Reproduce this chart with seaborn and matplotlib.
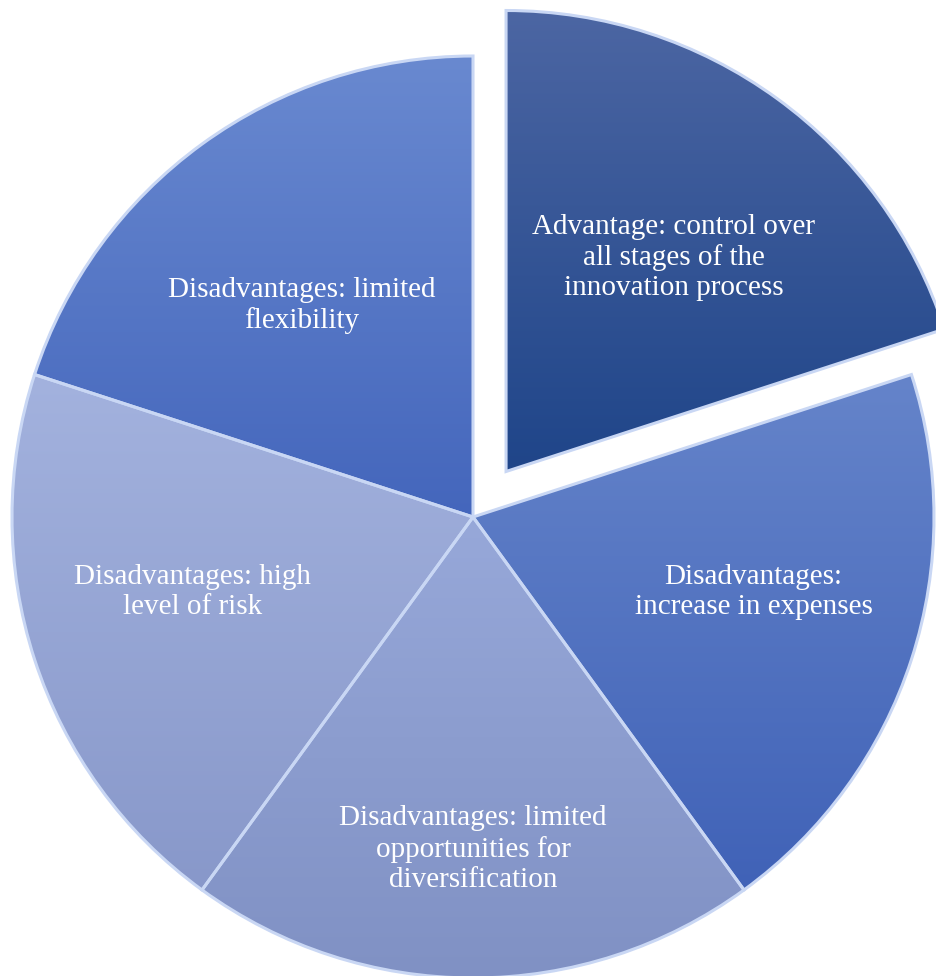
import matplotlib
matplotlib.use("Agg")
import matplotlib.pyplot as plt
import numpy as np
import seaborn as sns
from matplotlib.colors import LinearSegmentedColormap

# ---- data ----
labels = [
    "Advantage: control over\nall stages of the\ninnovation process",
    "Disadvantages:\nincrease in expenses",
    "Disadvantages: limited\nopportunities for\ndiversification",
    "Disadvantages: high\nlevel of risk",
    "Disadvantages: limited\nflexibility",
]
values = [1, 1, 1, 1, 1]
explode = [0.122, 0, 0, 0, 0]
top_colors = ["#4C66A3", "#6584CA", "#97A8D9", "#A3B2DE", "#6989D0"]
bottom_colors = ["#1F4589", "#4062B7", "#8091C4", "#8898CA", "#4466BC"]
label_dist = [0.59, 0.63, 0.72, 0.63, 0.59]
label_dang = [-2, 3, 0, -3, 3]

sns.set_theme(style="white")
plt.rcParams["font.family"] = ["Liberation Serif", "DejaVu Serif"]

W, H = 936, 976
R = 461.0
cx, cy = 473.0, 517.0

fig = plt.figure(figsize=(W / 100, H / 100), dpi=100)
ax = fig.add_axes([0, 0, 1, 1])
wedges, _ = ax.pie(values, explode=explode, startangle=90, counterclock=False,
                   radius=1.0, colors=top_colors,
                   wedgeprops=dict(edgecolor="#C9D7F4", linewidth=2.2))

ax.set_xlim(-cx / R, (W - cx) / R)
ax.set_ylim(-(H - cy) / R, cy / R)
ax.set_aspect("equal", adjustable="box")
ax.axis("off")

for i, w in enumerate(wedges):
    cmap = LinearSegmentedColormap.from_list("g%d" % i, [bottom_colors[i], top_colors[i]])
    grad = np.linspace(0, 1, 256).reshape(-1, 1)
    bb = w.get_path().get_extents()
    x0, y0 = w.center
    im = ax.imshow(grad, cmap=cmap, origin="lower", aspect="auto",
                   extent=(bb.x0, bb.x1, bb.y0, bb.y1), zorder=1)
    im.set_clip_path(w)
    w.set_facecolor("none")
    w.set_zorder(2)
    mid = np.deg2rad((w.theta1 + w.theta2) / 2 + label_dang[i])
    ax.text(x0 + label_dist[i] * np.cos(mid), y0 + label_dist[i] * np.sin(mid),
            labels[i], ha="center", va="center", color="white", fontsize=21,
            linespacing=1.2, zorder=10)

ax.set_xlim(-cx / R, (W - cx) / R)
ax.set_ylim(-(H - cy) / R, cy / R)
fig.savefig("out.png", dpi=100, facecolor="white")
